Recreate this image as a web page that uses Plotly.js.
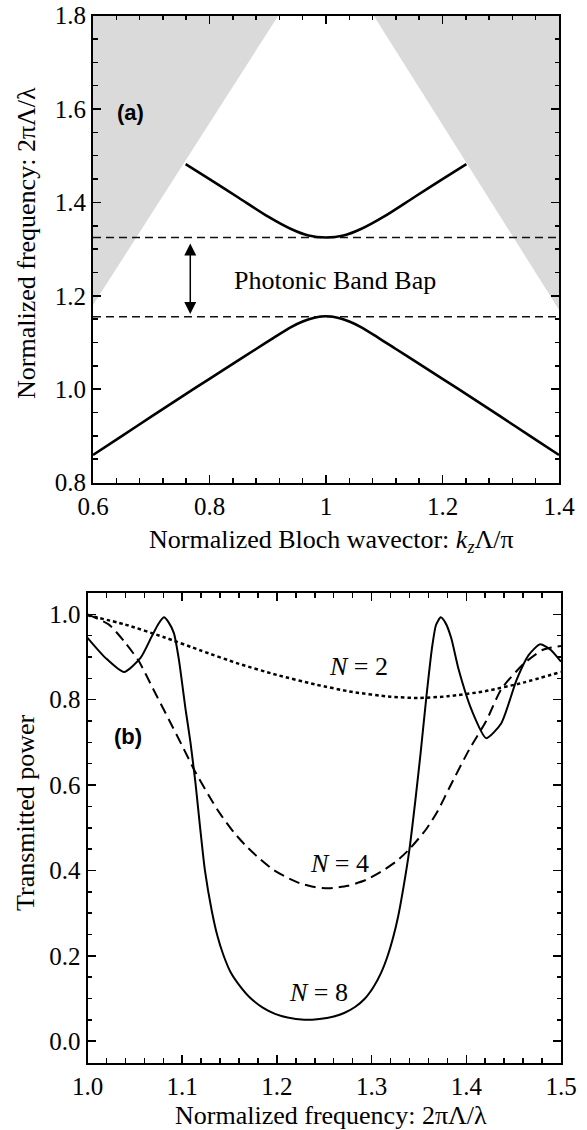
<!DOCTYPE html>
<html>
<head>
<meta charset="utf-8">
<script src="https://cdn.plot.ly/plotly-3.0.1.min.js"></script>
<style>html,body{margin:0;padding:0;background:#fff;}#chart{width:587px;height:1130px;}</style>
</head>
<body>
<div id="chart"></div>
<script>
// ---------- Panel (a): band diagram ----------
const coneLeftK  = [0.6, 0.918, 0.6];
const coneLeftW  = [1.18, 1.8, 1.8];
const coneRightK = [1.4, 1.082, 1.4];
const coneRightW = [1.17, 1.8, 1.8];

const lowerBandK = [0.6, 0.65, 0.7, 0.75, 0.8, 0.84, 0.88, 0.91, 0.94, 0.96, 0.98, 1.0, 1.02, 1.04, 1.06, 1.09, 1.12, 1.16, 1.2, 1.25, 1.3, 1.35, 1.4];
const lowerBandW = [0.859, 0.900, 0.941, 0.982, 1.022, 1.054, 1.086, 1.110, 1.133, 1.145, 1.153, 1.156, 1.153, 1.145, 1.133, 1.110, 1.086, 1.054, 1.022, 0.982, 0.941, 0.900, 0.859];

const upperBandK = [0.759, 0.8, 0.85, 0.9, 0.94, 0.97, 1.0, 1.03, 1.06, 1.1, 1.15, 1.2, 1.241];
const upperBandW = [1.482, 1.450, 1.410, 1.370, 1.343, 1.329, 1.325, 1.329, 1.343, 1.370, 1.410, 1.450, 1.482];

const gapEdgesW = [1.325, 1.155];
const kRange = [0.6, 1.4];

// ---------- Panel (b): transmission ----------
const n2X = [1.0, 1.04, 1.08, 1.12, 1.16, 1.2, 1.24, 1.28, 1.32, 1.35, 1.38, 1.42, 1.46, 1.5];
const n2T = [0.998, 0.976, 0.947, 0.915, 0.884, 0.858, 0.836, 0.818, 0.807, 0.804, 0.808, 0.820, 0.840, 0.865];

const n4X = [1.000, 1.0227, 1.040, 1.0543, 1.068, 1.086, 1.100, 1.114, 1.1317, 1.140, 1.155, 1.168, 1.182, 1.196, 1.210, 1.224, 1.240, 1.2548, 1.275, 1.2944, 1.310, 1.326, 1.340, 1.3578, 1.370, 1.3824, 1.4035, 1.421, 1.437, 1.461, 1.481, 1.500];
const n4T = [1.000, 0.976, 0.933, 0.890, 0.831, 0.753, 0.692, 0.630, 0.562, 0.533, 0.488, 0.456, 0.427, 0.402, 0.384, 0.370, 0.361, 0.358, 0.364, 0.378, 0.397, 0.421, 0.450, 0.497, 0.540, 0.595, 0.685, 0.750, 0.825, 0.885, 0.917, 0.926];

const n8X = [1.000, 1.019, 1.0385, 1.056, 1.068, 1.075, 1.0807, 1.086, 1.0912, 1.0965, 1.1036, 1.1088, 1.114, 1.1187, 1.124, 1.131, 1.137, 1.1433, 1.151, 1.161, 1.172, 1.1855, 1.198, 1.210, 1.229, 1.245, 1.259, 1.271, 1.2825, 1.293, 1.302, 1.310, 1.317, 1.323, 1.328, 1.334, 1.340, 1.346, 1.352, 1.358, 1.364, 1.368, 1.373, 1.378, 1.384, 1.392, 1.4056, 1.421, 1.437, 1.453, 1.466, 1.478, 1.489, 1.500];
const n8T = [0.945, 0.898, 0.865, 0.898, 0.949, 0.978, 0.993, 0.980, 0.956, 0.894, 0.777, 0.699, 0.605, 0.505, 0.400, 0.308, 0.248, 0.203, 0.162, 0.129, 0.101, 0.078, 0.064, 0.056, 0.050, 0.052, 0.057, 0.066, 0.080, 0.100, 0.127, 0.160, 0.200, 0.245, 0.292, 0.365, 0.450, 0.560, 0.680, 0.810, 0.925, 0.975, 0.993, 0.980, 0.945, 0.870, 0.776, 0.710, 0.745, 0.846, 0.905, 0.930, 0.917, 0.889];

const serif = 'Liberation Serif, Times New Roman, serif';
const W = 587, H = 1130;

const traces = [
  {x: coneLeftK, y: coneLeftW, xaxis:'x', yaxis:'y', mode:'lines', fill:'toself', fillcolor:'#dadada', line:{width:0, color:'#dadada'}, hoverinfo:'skip'},
  {x: coneRightK, y: coneRightW, xaxis:'x', yaxis:'y', mode:'lines', fill:'toself', fillcolor:'#dadada', line:{width:0, color:'#dadada'}, hoverinfo:'skip'},
  {x: kRange, y: [gapEdgesW[0], gapEdgesW[0]], xaxis:'x', yaxis:'y', mode:'lines', line:{color:'#111', width:1.6, dash:'8px,5px'}},
  {x: kRange, y: [gapEdgesW[1], gapEdgesW[1]], xaxis:'x', yaxis:'y', mode:'lines', line:{color:'#111', width:1.6, dash:'8px,5px'}},
  {x: lowerBandK, y: lowerBandW, xaxis:'x', yaxis:'y', mode:'lines', line:{color:'#000', width:2.6, shape:'spline', smoothing:0.8}},
  {x: upperBandK, y: upperBandW, xaxis:'x', yaxis:'y', mode:'lines', line:{color:'#000', width:2.6, shape:'spline', smoothing:0.8}},
  {x: n2X, y: n2T, xaxis:'x2', yaxis:'y2', mode:'lines', line:{color:'#000', width:2.5, dash:'3.5px,3px', shape:'spline', smoothing:0.6}},
  {x: n4X, y: n4T, xaxis:'x2', yaxis:'y2', mode:'lines', line:{color:'#000', width:2, dash:'11px,6px', shape:'spline', smoothing:0.6}},
  {x: n8X, y: n8T, xaxis:'x2', yaxis:'y2', mode:'lines', line:{color:'#000', width:2, shape:'spline', smoothing:0.6}}
];

function axisBase(extra) {
  return Object.assign({
    showline:true, linecolor:'#000', linewidth:2, mirror:'ticks',
    ticks:'inside', ticklen:8, tickwidth:1.5, tickcolor:'#000',
    showgrid:false, zeroline:false, automargin:false,
    tickfont:{family:serif, size:25, color:'#000'},
    fixedrange:true
  }, extra);
}

const layout = {
  width: W, height: H,
  margin:{l:0, r:0, t:0, b:0},
  paper_bgcolor:'#fff', plot_bgcolor:'#fff',
  showlegend:false,
  xaxis: axisBase({domain:[93/W, 559/W], range:[0.6,1.4], anchor:'y', tick0:0.6, dtick:0.2,
    minor:{ticks:'inside', ticklen:4.5, tickwidth:1.5, tickcolor:'#000', dtick:0.04, tick0:0.6}}),
  yaxis: axisBase({domain:[(H-482.5)/H, (H-15.7)/H], range:[0.8,1.8], anchor:'x', tick0:0.8, dtick:0.2, tickformat:'.1f',
    minor:{ticks:'inside', ticklen:4.5, tickwidth:1.5, tickcolor:'#000', dtick:0.05, tick0:0.8}}),
  xaxis2: axisBase({domain:[87.5/W, 561/W], range:[1.0,1.5], anchor:'y2', tick0:1.0, dtick:0.1, tickformat:'.1f',
    minor:{ticks:'inside', ticklen:4.5, tickwidth:1.5, tickcolor:'#000', dtick:0.02, tick0:1.0}}),
  yaxis2: axisBase({domain:[(H-1062.5)/H, (H-593)/H], range:[-0.05,1.05], anchor:'x2', tick0:0, dtick:0.2, tickformat:'.1f',
    minor:{ticks:'inside', ticklen:4.5, tickwidth:1.5, tickcolor:'#000', dtick:0.05, tick0:0}}),
  annotations: [
    {xref:'paper', yref:'paper', x:331/W, y:(H-541)/H, xanchor:'center', yanchor:'middle', showarrow:false,
     text:'Normalized Bloch wavector: <i>k</i><sub><i>z</i></sub>Λ/π', font:{family:serif, size:26, color:'#000'}},
    {xref:'paper', yref:'paper', x:26/W, y:(H-243)/H, xanchor:'center', yanchor:'middle', showarrow:false, textangle:-90,
     text:'Normalized frequency: 2πΛ/λ', font:{family:serif, size:26, color:'#000'}},
    {xref:'paper', yref:'paper', x:331/W, y:(H-1115)/H, xanchor:'center', yanchor:'middle', showarrow:false,
     text:'Normalized frequency: 2πΛ/λ', font:{family:serif, size:26, color:'#000'}},
    {xref:'paper', yref:'paper', x:26/W, y:(H-813)/H, xanchor:'center', yanchor:'middle', showarrow:false, textangle:-90,
     text:'Transmitted power', font:{family:serif, size:26, color:'#000'}},
    {xref:'x', yref:'y', x:0.665, y:1.592, showarrow:false, text:'<b>(a)</b>', font:{family:'Liberation Sans, Arial, sans-serif', size:22, color:'#000'}},
    {xref:'x', yref:'y', x:1.016, y:1.233, showarrow:false, text:'Photonic Band Bap', font:{family:serif, size:26, color:'#000'}},
    {xref:'x', yref:'y', x:0.767, y:1.161, ax:0.767, ay:1.315, axref:'x', ayref:'y', text:'', showarrow:true,
     arrowhead:2, startarrowhead:2, arrowside:'end+start', arrowsize:1.6, startarrowsize:1.6, arrowwidth:1.5, arrowcolor:'#000', standoff:0, startstandoff:0},
    {xref:'x2', yref:'y2', x:1.0424, y:0.713, showarrow:false, text:'<b>(b)</b>', font:{family:'Liberation Sans, Arial, sans-serif', size:22, color:'#000'}},
    {xref:'x2', yref:'y2', x:1.2857, y:0.878, showarrow:false, text:'<i>N</i> = 2', font:{family:serif, size:26, color:'#000'}},
    {xref:'x2', yref:'y2', x:1.2666, y:0.417, showarrow:false, text:'<i>N</i> = 4', font:{family:serif, size:26, color:'#000'}},
    {xref:'x2', yref:'y2', x:1.2435, y:0.114, showarrow:false, text:'<i>N</i> = 8', font:{family:serif, size:26, color:'#000'}}
  ]
};

Plotly.newPlot('chart', traces, layout, {staticPlot:true, displayModeBar:false});
</script>
</body>
</html>
